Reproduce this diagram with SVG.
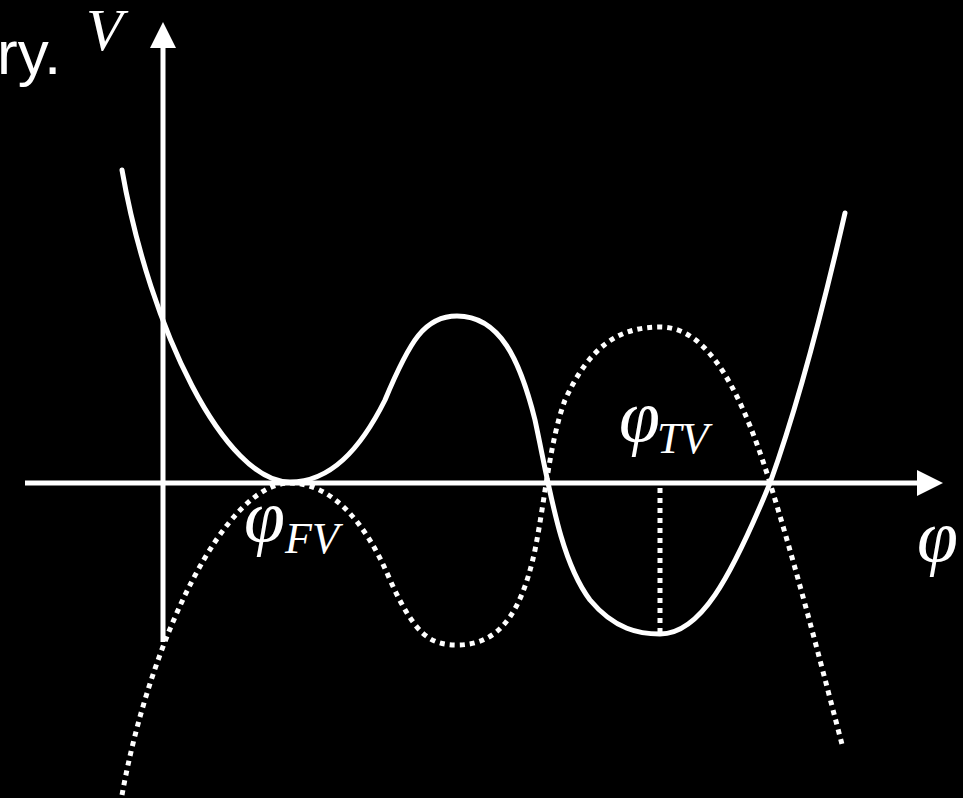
<svg xmlns="http://www.w3.org/2000/svg" width="963" height="798" viewBox="0 0 963 798">
<style>
.ax{stroke:#fff;stroke-width:5;fill:none}
.sol{stroke:#fff;stroke-width:5;fill:none;stroke-linecap:round}
.dot{stroke:#fff;stroke-width:5;fill:none;stroke-dasharray:5 5}
.head{fill:#fff}
.math{font-family:"Liberation Serif",serif;font-style:italic;fill:#fff}
.phi{font-size:74px}
.sub{font-size:44px}
.txt{font-family:"Liberation Sans",Arial,sans-serif;fill:#fff}
</style>
<rect width="963" height="798" fill="#000"/>
<g id="axes">
<line class="ax" x1="163" y1="642" x2="163" y2="44"/>
<polygon class="head" points="163,22 176,48 150,48"/>
<line class="ax" x1="25" y1="483" x2="920" y2="483"/>
<polygon class="head" points="943,483 917,470 917,496"/>
</g>
<g id="curves">
<path id="solid" class="sol" d="M122,170 C150,330 225,482 290,482 C330,482 360,450 385,400 C410,340 425,316 457,316 C500,316 520,360 535,420 C550,490 560,560 590,600 C615,630 640,634 660,634 C700,634 730,580 770,483 C800,400 825,300 845,213"/>
<path id="dotted" class="dot" d="M122,795 C150,640 225,483 290,483 C330,483 365,520 390,580 C415,635 430,645 457,645 C495,645 520,620 535,550 C545,500 550,440 565,400 C590,345 620,327 660,327 C700,327 735,370 770,483 C800,580 825,680 843,748"/>
<line id="tv-drop" class="dot" x1="660" y1="488" x2="660" y2="632"/>
</g>
<g id="labels">
<text class="txt" x="-3" y="74" font-size="62">ry.</text>
<text class="math" x="86" y="50" font-size="60">V</text>
<g id="phi-fv">
<text class="math phi" x="244" y="541">φ</text>
<text class="math sub" x="285" y="553">FV</text>
</g>
<g id="phi-tv">
<text class="math phi" x="619" y="441">φ</text>
<text class="math sub" x="657" y="453">TV</text>
</g>
<text class="math phi" x="917" y="561">φ</text>
</g>
</svg>
